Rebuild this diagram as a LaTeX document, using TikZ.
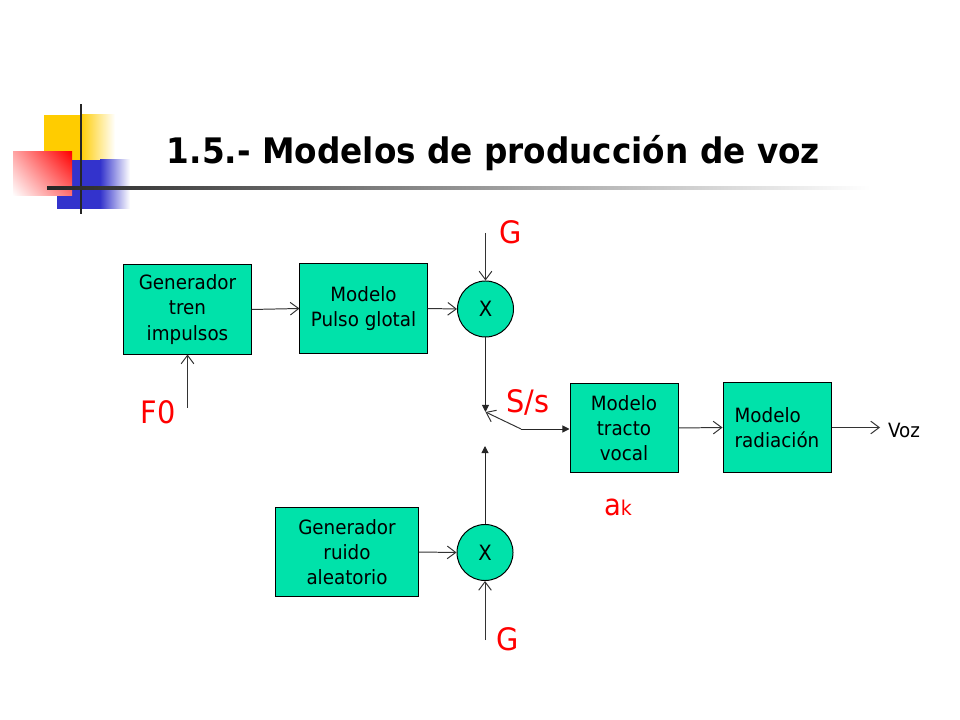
\documentclass[tikz,border=0pt]{standalone}
\usepackage{fontspec}
\setmainfont{DejaVu Sans}[FakeStretch=0.93]
\usepackage{tikz}
\usetikzlibrary{shapes, arrows.meta, positioning, shadings}
\usepackage{xcolor}
\definecolor{boxgreen}{RGB}{0,226,170}
\definecolor{logoyellow}{RGB}{255,204,0}
\definecolor{logoblue}{RGB}{51,51,204}

\begin{document}
\begin{tikzpicture}[x=0.025cm,y=-0.025cm,font=\fontsize{14}{18}\selectfont,
  blk/.style={draw,fill=boxgreen,align=center,inner sep=0pt,line width=0.7pt},
  mult/.style={draw,circle,fill=boxgreen,minimum size=1.4cm,inner sep=0pt,line width=0.7pt,font=\fontsize{15}{18}\selectfont},
  lbl/.style={text=red,font=\fontsize{22}{24}\selectfont},
  sig/.style={black!80,line width=0.7pt,-{Straight Barb[length=6pt,width=9pt]}},
  sigf/.style={black!85,line width=0.7pt,-{Triangle[length=5pt,width=5pt]}}]
\useasboundingbox (0,0) rectangle (960,720);
\fill [logoyellow](44,115) rectangle (80,160);
\shade [left color=logoyellow,right color=white](80,115) rectangle (115,160);
\fill [logoblue](57,160) rectangle (100,209);
\shade [left color=logoblue,right color=white](100,160) rectangle (130,209);
\shade [upper left=red!35,upper right=red,lower left=white,lower right=red!55](13,152) rectangle (72,196);
\fill [black!85](80,104) rectangle (82,214);
\shade [left color=black!85,right color=white](47,187) rectangle (870,189.5);
\node [anchor=base west,font=\fontsize{25}{30}\selectfont\bfseries] (titulo) at (162,164) {1.5.- Modelos de producción de voz};
\node [blk,minimum width=3.175cm,minimum height=2.225cm] (gentren) at (187.5,309.5) {Generador\\tren\\impulsos};
\node [blk,minimum width=3.175cm,minimum height=2.225cm] (pulso) at (363.5,308.5) {Modelo\\Pulso glotal};
\node [mult] (mul1) at (485.5,309) {X};
\node [blk,minimum width=2.7cm,minimum height=2.2cm] (tracto) at (624,428) {Modelo\\tracto\\vocal};
\node [blk,align=left,minimum width=2.7cm,minimum height=2.225cm] (radia) at (777,427.5) {Modelo\\radiación};
\node [blk,minimum width=3.55cm,minimum height=2.2cm] (ruido) at (347,552) {Generador\\ruido\\aleatorio};
\node [mult] (mul2) at (485,552.5) {X};
\node [inner sep=5.5pt] (voz) at (904,430) {Voz};
\node [lbl] (gtop) at (511,232) {G};
\node [lbl] (gbot) at (508,639) {G};
\node [lbl] (f0) at (158,412) {F0};
\node [lbl] (sels) at (528,402) {S/s};
\node [text=red] (ak) at (618,507) {\fontsize{21}{24}\selectfont a\fontsize{14.5}{16}\selectfont k};
\coordinate (gin1) at (485.5,233);
\coordinate (gin2) at (485,640);
\coordinate (f0in) at (187.5,408);
\coordinate (swtop) at (485.5,412);
\coordinate (swpiv) at (521,429);
\coordinate (swbot) at (485,446);
\draw [sig](gentren.east) -- (pulso.west);
\draw [sig](pulso.east) -- (mul1.west);
\draw [sig](gin1) -- (mul1.north);
\draw [sig](f0in) -- (gentren.south);
\draw [sigf](mul1.south) -- (swtop);
\draw [sig](swpiv) -- (swtop);
\draw [sigf](swpiv) -- (swpiv -| tracto.west);
\draw [sigf](mul2.north) -- (swbot);
\draw [sig](ruido.east) -- (mul2.west);
\draw [sig](gin2) -- (mul2.south);
\draw [sig](tracto.east) -- (radia.west);
\draw [sig](radia.east) -- (radia.east -| voz.west);
\end{tikzpicture}
\end{document}
